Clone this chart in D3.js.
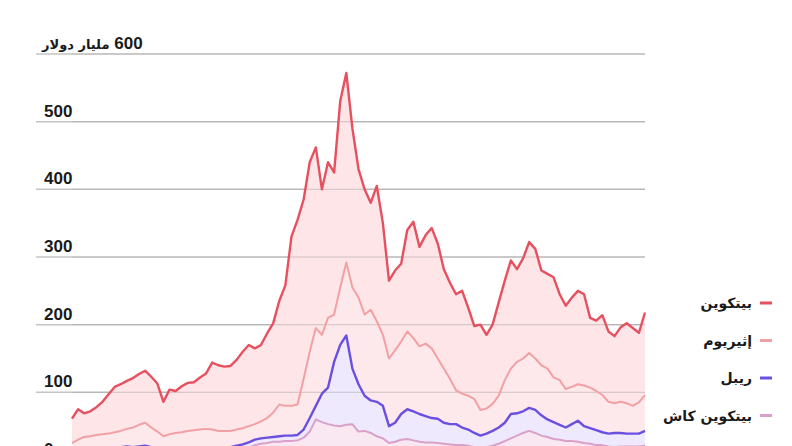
<!DOCTYPE html>
<html><head><meta charset="utf-8">
<script src="https://cdn.jsdelivr.net/npm/d3@7/dist/d3.min.js"></script>
<style>
html,body{margin:0;padding:0;background:#fff;}
svg{display:block;}
</style></head>
<body><svg id="chart" width="792" height="446"></svg>
<script>
// Market capitalisation, billion USD, sampled every 4 days from 2017-07-11
const startDate = "2017-07-11";
const stepDays = 4;
const bitcoin = [36,45,35,37,41,48,58,67,69,71,73,75,77,75,71,51,66,62,68,71,71,77,82,99,97,95,96,103,113,120,112,113,125,132,153,178,250,273,265,280,267,215,230,210,275,280,235,190,185,158,200,165,115,118,115,150,172,147,160,178,170,147,142,142,152,130,108,126,109,117,138,147,160,137,148,164,162,140,140,148,127,123,132,138,135,103,104,118,104,99,110,118,115,103,122];
const ethereum = [16,20,24,24,24,24,24,23,24,26,29,32,34,29,24,20,21,22,24,25,25,27,28,28,26,25,24,24,24,24,23,25,29,36,47,44,44,45,75,98,115,87,103,70,85,108,120,128,120,134,119,105,100,107,107,115,108,100,107,103,89,80,67,50,50,50,50,38,37,40,47,63,67,76,78,81,76,74,75,66,66,57,55,54,60,60,58,55,47,44,46,45,41,46,53];
const ripple = [6.5,7.5,7.5,8.5,10.5,6,6,8,7,7,8,8,7,6,6,5,6,7,7,8,9,9,8,6,7,6,5,6,7,8,8,8,8,7,8,8,8,8,12,20,20,42,54,94,120,132,82,70,52,48,51,48,25,28,38,44,43,41,39,36,36,31,30,31,26,24,21,18,20,22,24,27,36,33,32,34,34,30,26,25,22,20,25,31,25,23,22,19,19,21,20,19,19,19,22];
const bitcoinCash = [0,0,0,0,0,5.6,6.6,7.6,9.5,10.5,8.5,9.5,11.4,10.3,9,7.2,8.3,8.3,7.3,7.2,7.3,6.4,7.2,8,7,9,11,11.9,12.8,14.7,18.5,20,20,20.5,18,13,14,14,19,29,47,43,39,37,37,38,40,30,33,30,25.5,24,18,19,21,20,18,15,16,15,15,15,14,13,14,14,12,11,12,14,16.5,20,24,27.5,31,33.5,31.5,28,26.5,23.5,23,21,21,20,18.5,18,16.5,16.5,15,14,15,15,15,15.5,16.2];
const litecoin = [2.5,2.5,2.5,2.5,2.5,2.4,2.4,2.4,2.5,2.5,2.5,2.5,2.6,2.7,3.0,2.8,2.7,2.7,2.7,2.8,2.7,2.6,2.8,3.0,3.0,3.0,3.0,3.1,3.2,3.3,3.5,4,5,6.5,9,15,14,15,14,13,13,13,14,14,13,14,13,12,10,10,9.5,8,7,8,9,11,11,12,10,11,10,9,9,9,8,7,7,7,7,7,7.5,8,8,8.5,9,9.5,8.5,8,7.5,7.5,7,7,7,7,6.5,6,5.5,5.5,5,5,5,5,5,4.5,4.8];

const seriesKeys = ["bitcoin","ethereum","ripple","bitcoinCash","litecoin"];
const seriesNames = ["بيتكوين","إثيريوم","ريبل","بيتكوين كاش","لايتكوين"];
const yTicks = [0,100,200,300,400,500,600];
const unitLabel = "مليار دولار";

const lineColors = {bitcoin:"#e6505f", ethereum:"#f2a0a3", ripple:"#6b4fe0", bitcoinCash:"#d9a1c9", litecoin:"#b9b9c9"};
const fillColors = {bitcoin:"#fde0e4", ethereum:"#fde5e8", ripple:"#ebe5fb", bitcoinCash:"#f8e3ee", litecoin:"#efeff3"};
const lineWidths = {bitcoin:2.4, ethereum:2, ripple:2.4, bitcoinCash:2, litecoin:1.5};

const arrays = {bitcoin, ethereum, ripple, bitcoinCash, litecoin};
const t0 = d3.timeParse("%Y-%m-%d")(startDate);
const rows = bitcoin.map((_, i) => {
  const r = {date: d3.timeDay.offset(t0, i * stepDays)};
  seriesKeys.forEach(k => r[k] = arrays[k][i]);
  return r;
});

// stack order: litecoin at bottom, bitcoin on top
const stack = d3.stack().keys(seriesKeys.slice().reverse());
const stacked = stack(rows);

const svg = d3.select("#chart");
const x = d3.scaleTime().domain(d3.extent(rows, d => d.date)).range([72, 645]);
const y = d3.scaleLinear().domain([0, 600]).range([460, 54]);

// gridlines
svg.append("g").selectAll("line").data(yTicks).join("line")
  .attr("x1", 36).attr("x2", 645)
  .attr("y1", d => y(d)).attr("y2", d => y(d))
  .attr("stroke", "#c4c4c4").attr("stroke-width", 1.5);

const area = d3.area().x(d => x(d.data.date)).y0(d => y(d[0])).y1(d => y(d[1])).curve(d3.curveLinear);
const line = d3.line().x(d => x(d.data.date)).y(d => y(d[1])).curve(d3.curveLinear);

svg.append("g").selectAll("path").data(stacked).join("path")
  .attr("d", area).attr("fill", s => fillColors[s.key]).attr("fill-opacity", 0.85);

svg.append("g").selectAll("line").data(yTicks).join("line")
  .attr("x1", 72).attr("x2", 645)
  .attr("y1", d => y(d)).attr("y2", d => y(d))
  .attr("stroke", "#9a9a9a").attr("stroke-opacity", 0.35).attr("stroke-width", 1);

svg.append("g").selectAll("path").data(stacked).join("path")
  .attr("d", line).attr("fill", "none")
  .attr("stroke", s => lineColors[s.key])
  .attr("stroke-width", s => lineWidths[s.key])
  .attr("stroke-linejoin", "round");

// y tick labels
const labels = svg.append("g").attr("font-family", "'Liberation Sans', Arial, 'DejaVu Sans', sans-serif")
  .attr("font-weight", "bold").attr("font-size", 17).attr("fill", "#1a1a1a");
labels.selectAll("text").data(yTicks.filter(d => d !== 600)).join("text")
  .attr("x", 44).attr("y", d => y(d) - 5)
  .text(d => d);
const topLabel = labels.append("text")
  .attr("x", 42).attr("y", y(600) - 5)
  .attr("direction", "rtl").attr("text-anchor", "end");
topLabel.append("tspan").text(yTicks[yTicks.length - 1] + " ");
topLabel.append("tspan").attr("font-family", "'DejaVu Sans', sans-serif").attr("font-size", 13).text(unitLabel);

// legend
const legend = svg.append("g").attr("font-family", "'DejaVu Sans', sans-serif")
  .attr("font-weight", "bold").attr("font-size", 14).attr("fill", "#1a1a1a");
const ly = d3.scalePoint().domain(seriesKeys).range([303, 453]);
const items = legend.selectAll("g").data(seriesKeys).join("g")
  .attr("transform", k => `translate(0,${ly(k)})`);
items.append("line").attr("x1", 760).attr("x2", 772).attr("y1", 0).attr("y2", 0)
  .attr("stroke", k => lineColors[k]).attr("stroke-width", 3);
items.append("text").attr("x", 752).attr("y", 5)
  .attr("direction", "rtl").attr("text-anchor", "start")
  .text((k, i) => seriesNames[i]);
</script>
</body></html>
